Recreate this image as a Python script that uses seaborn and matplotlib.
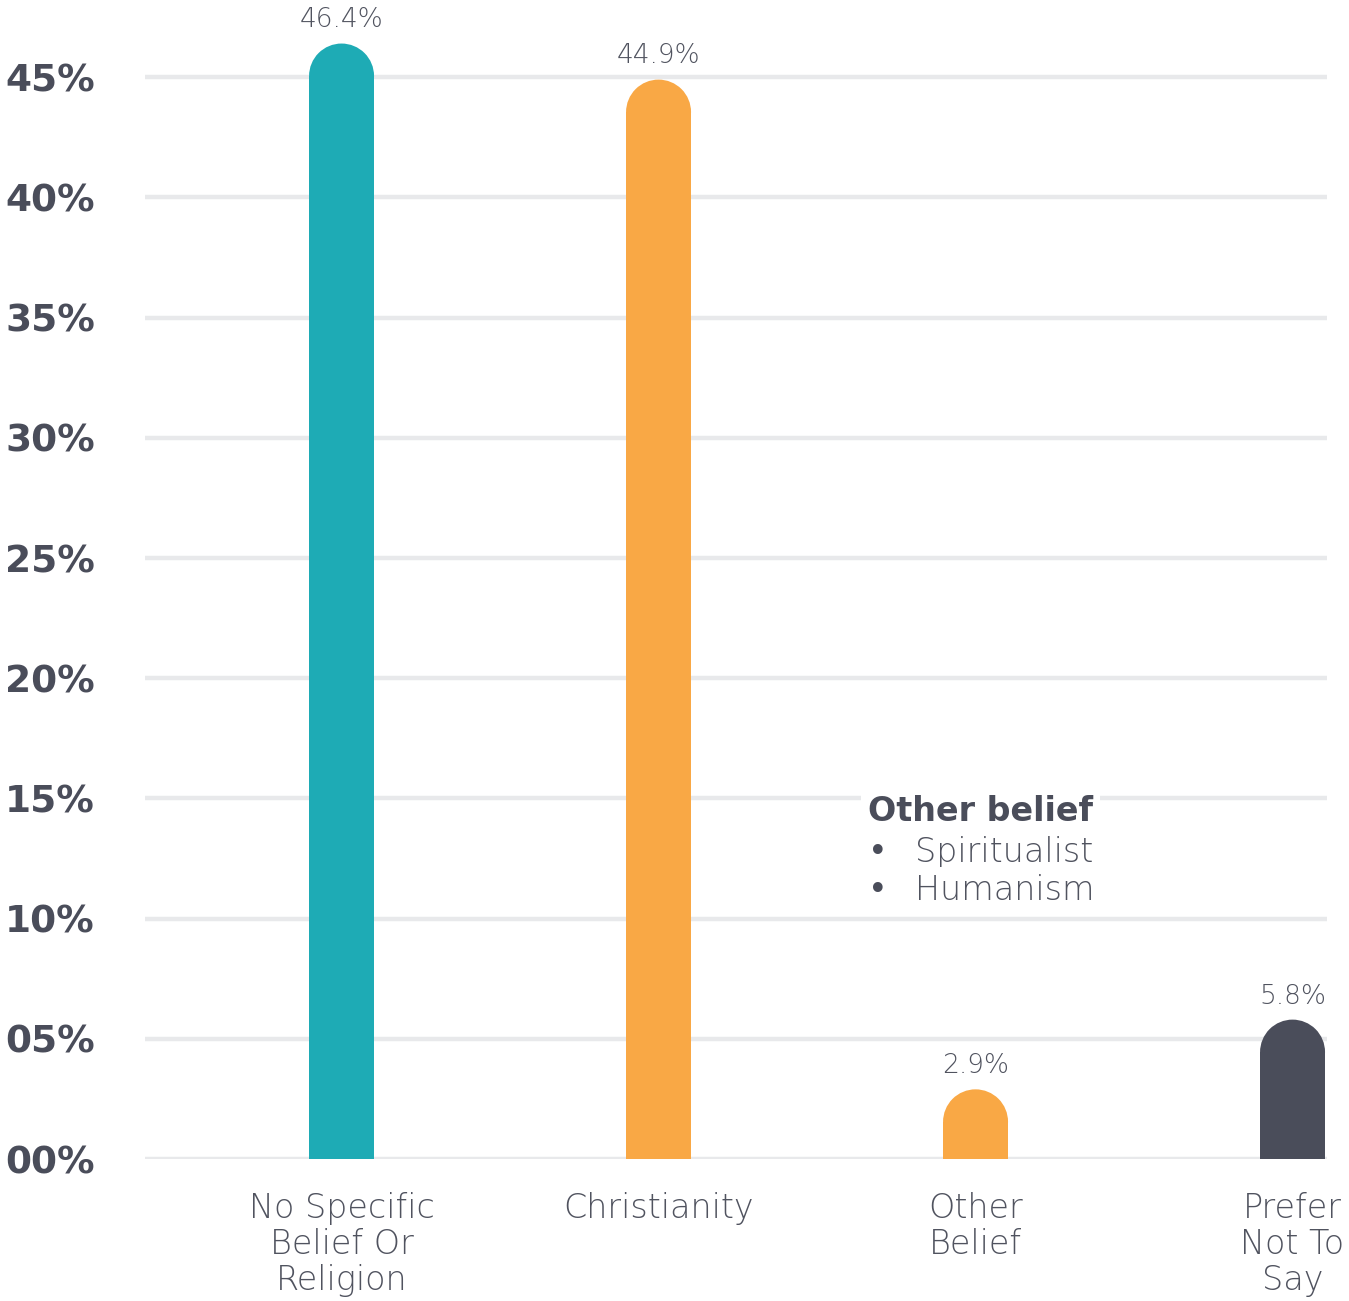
import matplotlib
matplotlib.use("Agg")
import matplotlib.pyplot as plt
from matplotlib.patches import Ellipse
import seaborn as sns
import pandas as pd

categories = ["No Specific\nBelief Or\nReligion", "Christianity", "Other\nBelief", "Prefer\nNot To\nSay"]
values = [46.4, 44.9, 2.9, 5.8]
value_labels = ["46.4%", "44.9%", "2.9%", "5.8%"]
colors = ["#1eabb5", "#f9a845", "#f9a845", "#4a4d5a"]
yticks = [0, 5, 10, 15, 20, 25, 30, 35, 40, 45]
ytick_labels = ["00%", "05%", "10%", "15%", "20%", "25%", "30%", "35%", "40%", "45%"]
note_title = "Other belief"
note_items = ["Spiritualist", "Humanism"]

sns.set_theme(style="white")
plt.rcParams["font.family"] = ["DejaVu Sans", "Noto Sans"]

df = pd.DataFrame({"cat": categories, "val": values})

fig = plt.figure(figsize=(13.49, 13.01), dpi=100)
ax = fig.add_axes([0.1075, 0.1091, 0.8765, 0.887])

sns.barplot(data=df, x="cat", y="val", hue="cat", palette=colors, legend=False,
            width=0.205, ax=ax, saturation=1, zorder=3, linewidth=0)

ax.set_xlim(-0.62, 3.11)
ax.set_ylim(0, 48)

dark = "#4a4d5a"
light_color = "#50535f"
r_data = 1.35
for p, v, lab in zip(ax.patches, values, value_labels):
    x0 = p.get_x()
    w = p.get_width()
    p.set_height(v - r_data)
    e = Ellipse((x0 + w / 2, v - r_data), w, 2 * r_data, facecolor=p.get_facecolor(),
                edgecolor="none", zorder=3)
    ax.add_patch(e)
    ax.annotate(lab, (x0 + w / 2, v), xytext=(0, 8),
                textcoords="offset points", ha="center", va="bottom",
                fontsize=19, fontweight="light", color=light_color,
                annotation_clip=False)

for s in ax.spines.values():
    s.set_visible(False)

ax.set_yticks(yticks)
ax.set_yticklabels(ytick_labels, fontsize=27, fontweight="bold", color=dark)
ax.yaxis.grid(True, color="#e8e9eb", linewidth=3.2, zorder=0)
ax.set_axisbelow(True)
ax.tick_params(axis="y", length=0, pad=36)
ax.tick_params(axis="x", length=0, pad=24)
for lab in ax.get_xticklabels():
    lab.set_fontsize(24)
    lab.set_fontweight("light")
    lab.set_color(light_color)
    lab.set_linespacing(1.1)
    lab.set_va("top")
ax.set_xlabel("")
ax.set_ylabel("")

ax.text(1.66, 15.15, note_title, ha="left", va="top", fontsize=24, fontweight="bold",
        color=dark, zorder=5,
        bbox=dict(facecolor="white", edgecolor="none", pad=5))
for i, it in enumerate(note_items):
    yy = 13.45 - i * 1.6
    ax.text(1.66, yy, "\u2022", ha="left", va="top", fontsize=24,
            fontweight="normal", color=dark, zorder=6)
    ax.text(1.81, yy, it, ha="left", va="top", fontsize=24,
            fontweight="light", color=light_color, zorder=5,
            bbox=dict(facecolor="white", edgecolor="none", pad=5))

fig.savefig("out.png", dpi=100, facecolor="white")
